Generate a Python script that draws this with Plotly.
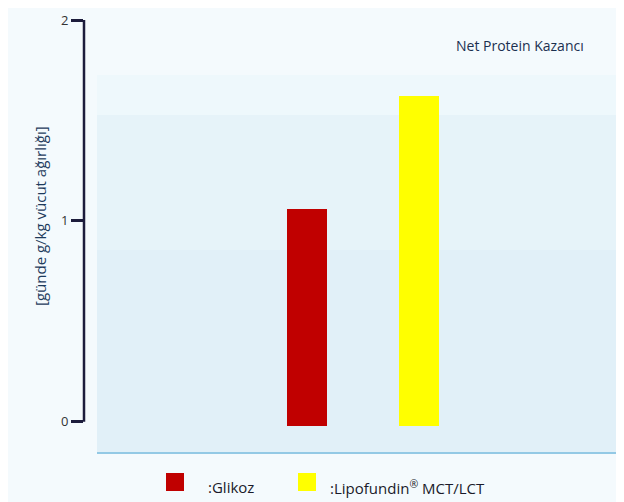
import plotly.graph_objects as go

categories = [":Glikoz", ":Lipofundin<sup>®</sup> MCT/LCT"]
values = [1.06, 1.62]
colors = ["#c00000", "#ffff00"]
tick_vals = [0, 1, 2]
tick_text = ["0", "1", "2"]
y_title = "[günde g/kg vücut ağırlığı]"
chart_title = "Net Protein Kazancı"

OFF = 8  # page body margin
W, H = 624 - OFF, 502 - OFF
ML, MR, MT, MB = 84 - OFF, 0, 20 - OFF, 46
PW = W - ML - MR
PH = H - MT - MB
y0, y1 = -0.17, 2.0


def px(x):
    return (x - 84) / PW


def py(y):
    return (456 - y) / PH


fig = go.Figure()
fig.add_trace(go.Bar(
    x=[0, 1], y=[v + 0.02 for v in values], base=-0.02,
    marker=dict(color=colors, line=dict(width=0)),
    width=0.357, showlegend=False, hoverinfo="skip",
))

shapes = []
# background panel (soft gradient)
shapes.append(dict(type="rect", xref="paper", yref="paper", x0=px(97), x1=1.0,
                   y0=py(452), y1=py(75), fillcolor="#eef8fc",
                   line=dict(width=0), layer="below"))
shapes.append(dict(type="rect", xref="paper", yref="paper", x0=px(97), x1=1.0,
                   y0=py(452), y1=py(115), fillcolor="#e6f3f9",
                   line=dict(width=0), layer="below"))
shapes.append(dict(type="rect", xref="paper", yref="paper", x0=px(97), x1=1.0,
                   y0=py(452), y1=py(250), fillcolor="#e1f0f8",
                   line=dict(width=0), layer="below"))
shapes.append(dict(type="line", xref="paper", yref="paper", x0=px(97), x1=1.0,
                   y0=py(453), y1=py(453), line=dict(color="#93c9e5", width=2),
                   layer="below"))
# y axis line from 0 to 2
shapes.append(dict(type="line", xref="paper", yref="y", x0=0, x1=0, y0=0, y1=2,
                   line=dict(color="#1c1c3c", width=2.5)))

annotations = [
    dict(text=chart_title, xref="paper", yref="paper", x=px(586), y=py(45),
         xanchor="right", yanchor="middle", showarrow=False,
         font=dict(family="Open Sans", size=14, color="#1b3050")),
    dict(text=y_title, xref="paper", yref="paper", x=px(40), y=py(216),
         xanchor="center", yanchor="middle", textangle=-90, showarrow=False,
         font=dict(family="Open Sans", size=15, color="#1d3a5c")),
]

# legend drawn manually
leg_y = 482
legend_items = [(166, 206), (298, 328)]
for (sx, tx), name, col in zip(legend_items, categories, colors):
    shapes.append(dict(type="rect", xref="paper", yref="paper",
                       x0=px(sx), x1=px(sx + 18),
                       y0=py(leg_y + 9), y1=py(leg_y - 9),
                       fillcolor=col, line=dict(width=0)))
    annotations.append(dict(text=name, xref="paper", yref="paper", x=px(tx),
                            y=py(leg_y + 5), xanchor="left", yanchor="middle",
                            showarrow=False,
                            font=dict(family="Open Sans", size=15, color="#1a1a2a")))

fig.update_layout(
    width=W, height=H,
    margin=dict(l=ML, r=MR, t=MT, b=MB, pad=0),
    paper_bgcolor="#f4fafd", plot_bgcolor="rgba(0,0,0,0)",
    shapes=shapes, annotations=annotations,
    bargap=0,
    xaxis=dict(range=[-1.99, 2.83], visible=False, fixedrange=True),
    yaxis=dict(range=[y0, y1], tickvals=tick_vals, ticktext=tick_text,
               ticks="outside", ticklen=12, tickwidth=2.5, tickcolor="#1c1c3c",
               showline=False, showgrid=False, zeroline=False,
               tickfont=dict(family="Open Sans", size=13, color="#333333")),
)

fig.write_html("out.html")
